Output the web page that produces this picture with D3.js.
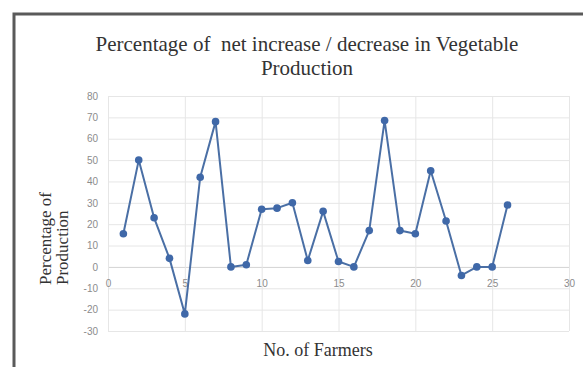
<!DOCTYPE html>
<html>
<head>
<meta charset="utf-8">
<script src="https://cdn.jsdelivr.net/npm/d3@7/dist/d3.min.js"></script>
<style>
  html, body { margin: 0; padding: 0; background: #fff; }
  svg { display: block; }
  text { white-space: pre; }
</style>
</head>
<body>
<svg id="chart" width="583" height="367"></svg>
<script>
// Farmer number and the net change in vegetable production (%)
const farmers = [1,2,3,4,5,6,7,8,9,10,11,12,13,14,15,16,17,18,19,20,21,22,23,24,25,26];
const change  = [15.5,50,23,4,-22,42,68,0,1,27,27.5,30,3,26,2.5,0,17,68.5,17,15.5,45,21.5,-4,0,0,29];
const xTicks = [0,5,10,15,20,25,30];
const yTicks = [-30,-20,-10,0,10,20,30,40,50,60,70,80];
const titleLines = ["Percentage of  net increase / decrease in Vegetable", "Production"];
const yTitleLines = ["Percentage of", "Production"];
const xTitle = "No. of Farmers";

const svg = d3.select("#chart");
const plot = { left: 108, right: 569, top: 96, bottom: 331 };

const x = d3.scaleLinear().domain([0, 30]).range([plot.left, plot.right]);
const y = d3.scaleLinear().domain([-30, 80]).range([plot.bottom, plot.top]);

// Outer frame (runs off the right and bottom edges)
svg.append("rect")
  .attr("x", 14).attr("y", 14)
  .attr("width", 620).attr("height", 420)
  .attr("fill", "none").attr("stroke", "#5a5a5a").attr("stroke-width", 3);

// Title
svg.append("text")
  .attr("x", 307).attr("y", 51)
  .attr("text-anchor", "middle")
  .attr("font-family", "Liberation Serif, Times New Roman, serif")
  .attr("font-size", 21).attr("fill", "#333")
  .selectAll("tspan").data(titleLines).join("tspan")
  .attr("x", 307).attr("dy", (d, i) => i === 0 ? 0 : 24)
  .text(d => d);

// Gridlines
const grid = svg.append("g");
grid.selectAll("line.h").data(yTicks).join("line")
  .attr("class", "h")
  .attr("x1", plot.left).attr("x2", plot.right)
  .attr("y1", d => y(d) + 0.5).attr("y2", d => y(d) + 0.5)
  .attr("stroke", d => d === 0 ? "#d4d4d4" : "#e6e6e6").attr("stroke-width", 1);
grid.selectAll("line.v").data(xTicks).join("line")
  .attr("class", "v")
  .attr("y1", plot.top).attr("y2", plot.bottom)
  .attr("x1", d => x(d) + 0.5).attr("x2", d => x(d) + 0.5)
  .attr("stroke", "#e6e6e6").attr("stroke-width", 1);

const fmt = d => String(d);

// Y axis labels
const yAxis = d3.axisLeft(y).tickValues(yTicks).tickFormat(fmt).tickSize(0).tickPadding(10);
svg.append("g")
  .attr("transform", `translate(${plot.left},0)`)
  .call(yAxis)
  .call(g => g.select(".domain").remove())
  .call(g => g.selectAll("text")
    .attr("font-family", "Liberation Sans, Arial, sans-serif")
    .attr("font-size", 10).attr("fill", "#8c8c8c"));

// X axis labels sit just under the zero line
const xAxis = d3.axisBottom(x).tickValues(xTicks).tickFormat(fmt).tickSize(0).tickPadding(13);
svg.append("g")
  .attr("transform", `translate(0,${y(0)})`)
  .call(xAxis)
  .call(g => g.select(".domain").remove())
  .call(g => g.selectAll("text")
    .attr("font-family", "Liberation Sans, Arial, sans-serif")
    .attr("font-size", 10).attr("fill", "#8c8c8c"));

// Axis titles
svg.append("text")
  .attr("transform", "translate(51,285) rotate(-90)")
  .attr("font-family", "Liberation Serif, Times New Roman, serif")
  .attr("font-size", 17).attr("fill", "#333")
  .selectAll("tspan").data(yTitleLines).join("tspan")
  .attr("x", 0).attr("dy", (d, i) => i === 0 ? 0 : 17)
  .text(d => d);

svg.append("text")
  .attr("x", 318).attr("y", 356)
  .attr("text-anchor", "middle")
  .attr("font-family", "Liberation Serif, Times New Roman, serif")
  .attr("font-size", 18).attr("fill", "#333")
  .text(xTitle);

// Series line and markers
const pts = farmers.map((f, i) => ({ f, v: change[i] }));
svg.append("path")
  .datum(pts)
  .attr("fill", "none")
  .attr("stroke", "#4a6fa5").attr("stroke-width", 2)
  .attr("stroke-linejoin", "round")
  .attr("d", d3.line().x(d => x(d.f)).y(d => y(d.v)));

svg.append("g").selectAll("circle").data(pts).join("circle")
  .attr("cx", d => x(d.f)).attr("cy", d => y(d.v))
  .attr("r", 3.8)
  .attr("fill", "#3f68a8");
</script>
</body>
</html>
